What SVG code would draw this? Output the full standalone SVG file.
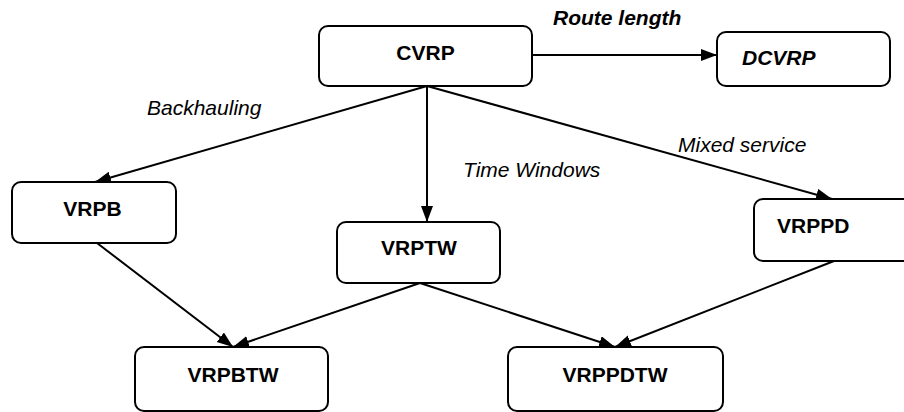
<svg xmlns="http://www.w3.org/2000/svg" width="904" height="412" viewBox="0 0 904 412">
<style>
.box{fill:#fff;stroke:#000;stroke-width:2}
.lbl{font-family:"Liberation Sans",Arial,sans-serif;font-size:21px;font-weight:bold;fill:#000}
.it{font-family:"Liberation Sans",Arial,sans-serif;font-size:21px;font-style:italic;fill:#000}
.edge{stroke:#000;stroke-width:2;fill:none;marker-end:url(#ah)}
</style>
<defs>
<marker id="ah" markerUnits="userSpaceOnUse" markerWidth="17" markerHeight="13" refX="16" refY="6" orient="auto">
<path d="M0,0 L16,6 L0,12 z" fill="#000"/>
</marker>
</defs>
<rect width="904" height="412" fill="#fff"/>
<g id="connectors">
<line class="edge" x1="532" y1="55" x2="717" y2="55"/>
<line class="edge" x1="427" y1="86" x2="95" y2="182"/>
<line class="edge" x1="427" y1="86" x2="427" y2="222"/>
<line class="edge" x1="427" y1="86" x2="832" y2="199"/>
<line class="edge" x1="97" y1="243" x2="233" y2="347"/>
<line class="edge" x1="420" y1="283" x2="233" y2="347"/>
<line class="edge" x1="420" y1="283" x2="615" y2="347"/>
<line class="edge" x1="834" y1="261" x2="615" y2="347"/>
</g>
<g id="labels">
<text class="it" x="553" y="25" font-weight="bold">Route length</text>
<text class="it" x="147" y="115">Backhauling</text>
<text class="it" x="463" y="177">Time Windows</text>
<text class="it" x="678" y="152">Mixed service</text>
</g>
<g id="CVRP">
<rect class="box" x="319" y="26" width="213" height="60" rx="9"/>
<text class="lbl" x="425.5" y="60" text-anchor="middle">CVRP</text>
</g>
<g id="DCVRP">
<rect class="box" x="717" y="32" width="173" height="54" rx="9"/>
<text class="lbl" x="742" y="65" font-style="italic">DCVRP</text>
</g>
<g id="VRPB">
<rect class="box" x="12" y="182" width="164" height="61" rx="9"/>
<text class="lbl" x="92.5" y="216" text-anchor="middle">VRPB</text>
</g>
<g id="VRPTW">
<rect class="box" x="337" y="222" width="163" height="61" rx="9"/>
<text class="lbl" x="419" y="255" text-anchor="middle">VRPTW</text>
</g>
<g id="VRPPD">
<rect class="box" x="754" y="199" width="160" height="62" rx="9"/>
<text class="lbl" x="777" y="233">VRPPD</text>
</g>
<g id="VRPBTW">
<rect class="box" x="135" y="347" width="193" height="64" rx="9"/>
<text class="lbl" x="233" y="382" text-anchor="middle">VRPBTW</text>
</g>
<g id="VRPPDTW">
<rect class="box" x="508" y="347" width="215" height="64" rx="9"/>
<text class="lbl" x="615" y="382" text-anchor="middle">VRPPDTW</text>
</g>
</svg>
